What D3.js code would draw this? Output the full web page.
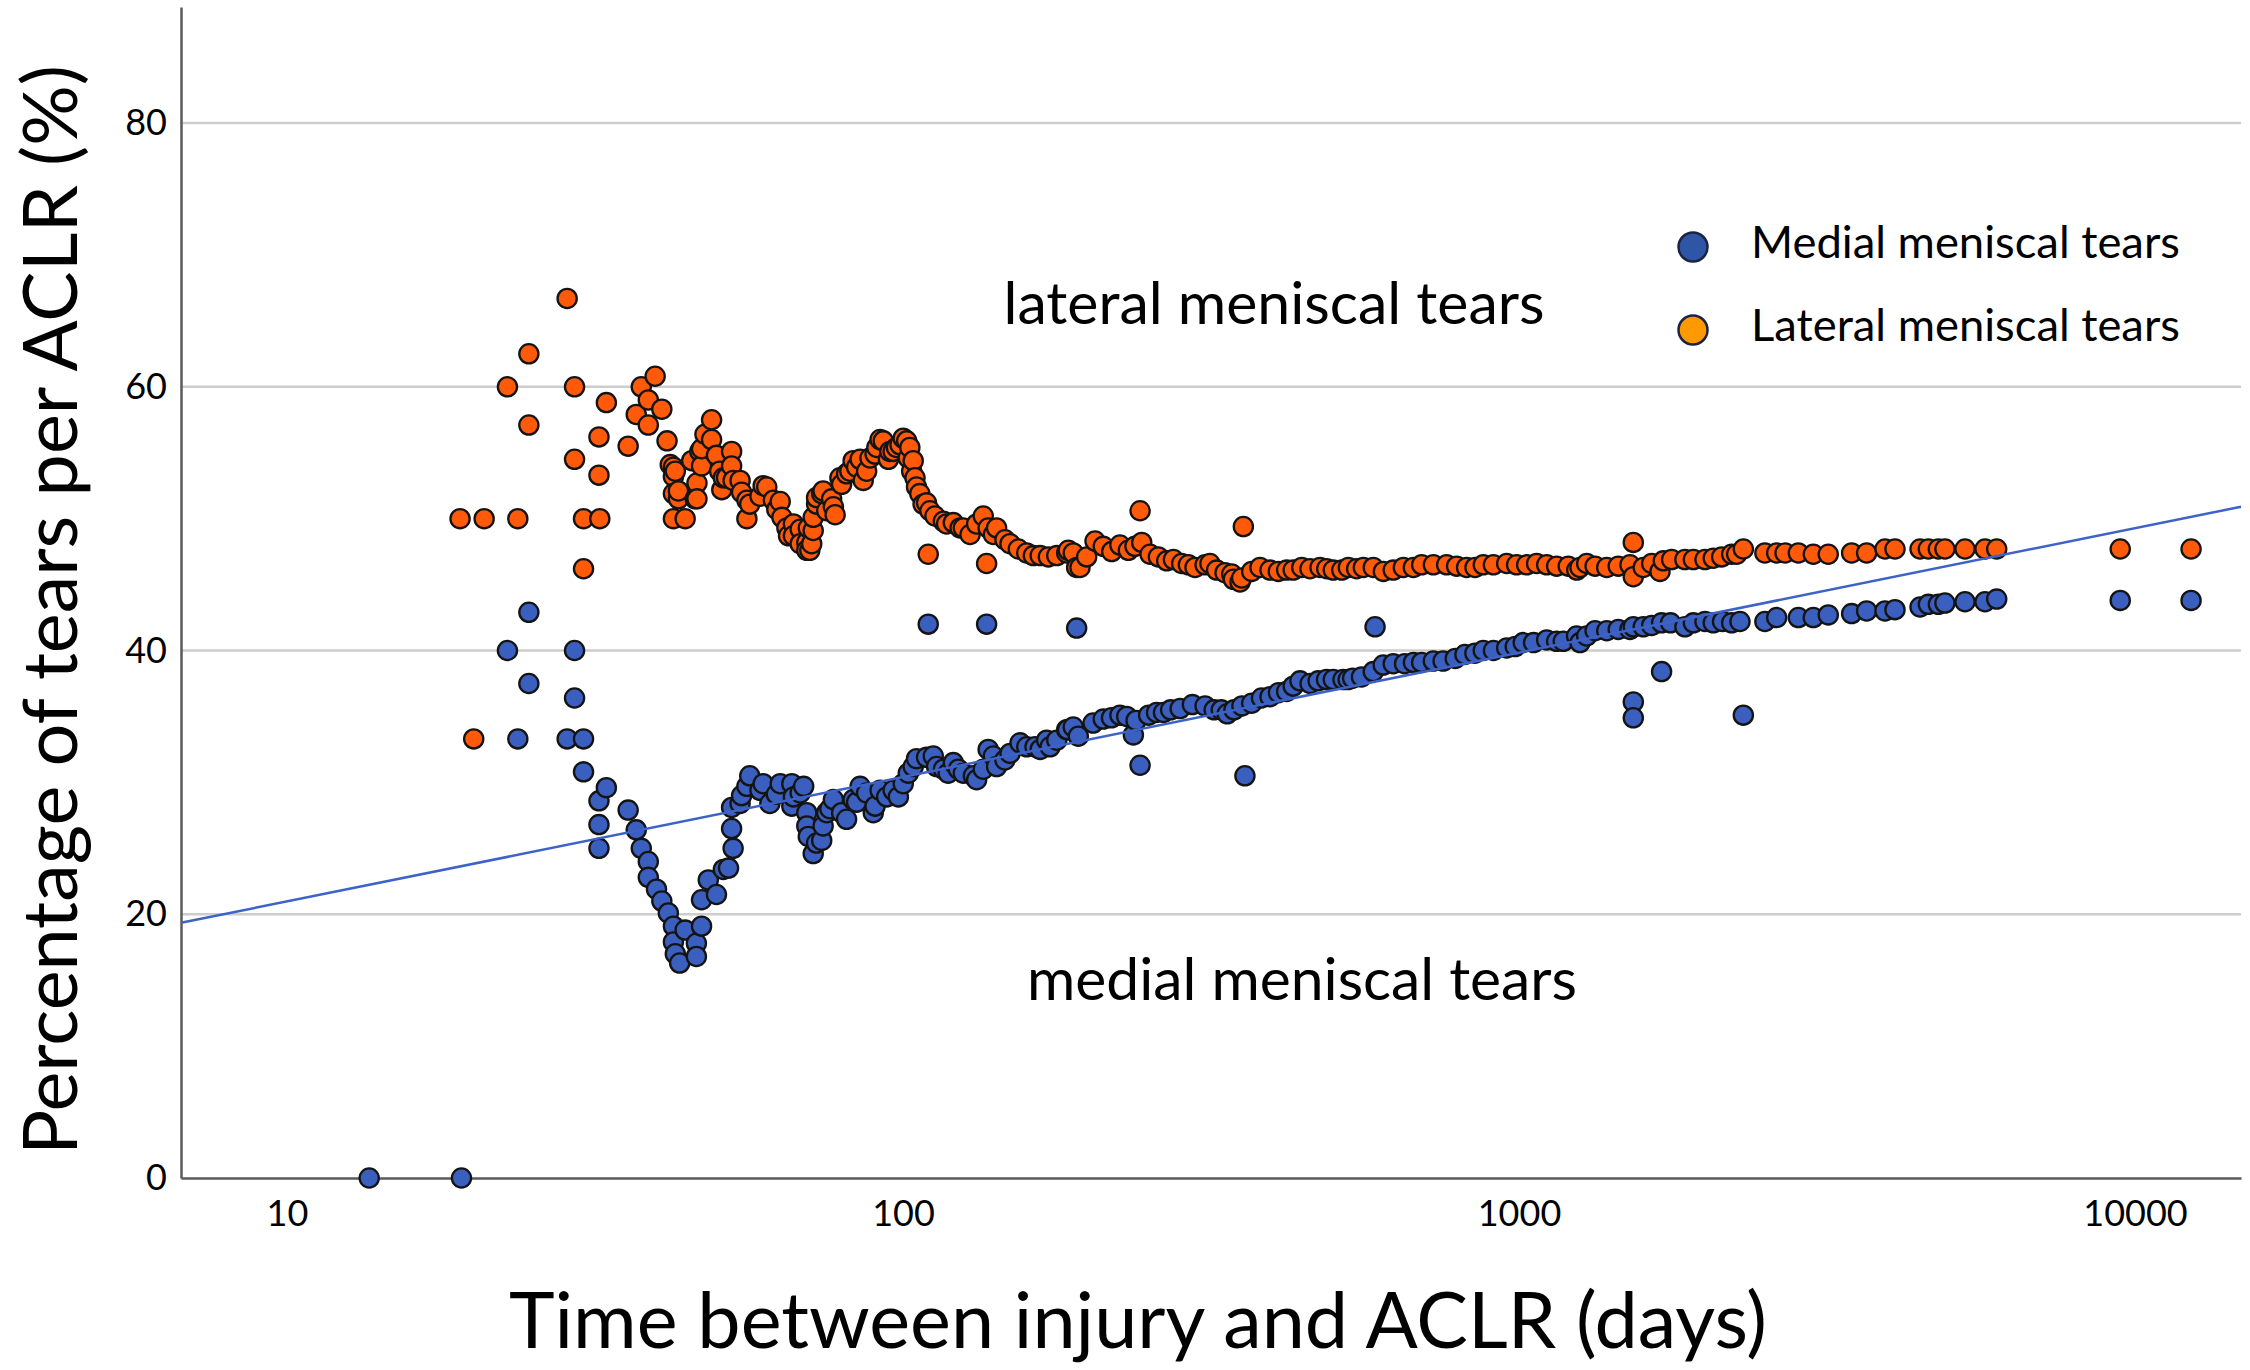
<!DOCTYPE html>
<html>
<head>
<meta charset="utf-8">
<script src="https://cdn.jsdelivr.net/npm/d3@7/dist/d3.min.js"></script>
<style>
  body { margin: 0; background: #fff; }
  svg { display: block; font-family: Lato, "Open Sans", sans-serif; }
</style>
</head>
<body>
<div id="chart"></div>
<script>
// values: [days, percent]
var lateralPoints = [
  [19.1,50],[20.1,33.3],[20.9,50],[22.8,60],[23.7,50],[24.7,62.5],[24.7,57.1],[28.5,66.7],[29.3,60],[29.3,54.5],
  [30.3,50],[30.3,46.2],[32.1,53.3],[32.1,56.2],[32.2,50],[33.0,58.8],[35.8,55.5],[36.9,57.9],[37.6,60.0],[38.6,59.0],
  [38.6,57.1],[39.6,60.8],[40.6,58.3],[41.4,55.9],[41.9,54.1],[42.4,53.9],[42.4,53.2],[42.4,51.9],[42.4,50],[42.7,53.6],
  [43.2,51.5],[43.2,52.1],[44.3,50],[45.4,54.4],[46.0,51.5],[46.3,52.7],[46.3,51.5],[46.8,55.1],[47.1,54.0],[47.1,55.3],
  [47.7,56.4],[48.9,56.0],[48.9,57.5],[49.8,54.8],[50.4,53.6],[50.8,52.2],[51.1,53.1],[51.7,53.1],[52.7,55.1],[52.7,54.0],
  [53.0,52.9],[54.4,52.9],[54.7,52.0],[55.8,50.0],[55.8,51.4],[56.4,51.1],[58.6,51.7],[59.3,52.5],[60.1,52.4],[61.6,51.4],
  [62.4,50.7],[63.2,51.3],[63.6,50.1],[64.8,49.3],[65.2,48.7],[66.4,49.6],[66.4,48.7],[68.1,49.2],[68.1,48.1],[69.8,48.2],
  [69.8,47.6],[70.2,49.3],[70.6,47.6],[71.1,48.1],[71.5,49.1],[71.5,50.1],[72.4,51.1],[72.4,51.6],[73.8,51.9],[74.2,52.1],
  [75.2,50.6],[76.6,51.5],[77.1,50.9],[77.6,50.3],[79.0,53.1],[79.5,52.6],[81.0,53.4],[82.0,53.6],[83.0,54.4],[84.1,53.9],
  [85.2,54.5],[86.2,52.9],[87.3,53.6],[88.4,54.6],[90.1,54.9],[90.7,55.4],[91.8,56.0],[92.9,55.9],[94.7,54.5],[95.2,55.1],
  [96.4,55.1],[97.6,55.4],[98.9,55.6],[100.1,56.1],[101.4,55.9],[102.0,54.6],[102.6,55.4],[103.3,53.6],[103.9,54.4],[104.6,53.1],
  [105.2,52.4],[106.5,51.9],[107.8,51.1],[109.2,51.2],[109.9,47.3],[110.6,50.6],[112.7,50.2],[116.3,49.8],[117.7,49.6],[120.7,49.7],
  [123.8,49.3],[125.3,49.3],[128.5,48.8],[131.7,49.6],[135.0,50.2],[136.7,46.6],[137.5,49.3],[140.2,48.8],[141.9,49.3],[146.4,48.4],
  [149.2,48.1],[153.9,47.7],[158.8,47.4],[162.8,47.2],[167.0,47.2],[172.2,47.1],[177.7,47.2],[184.4,47.4],[185.5,47.6],[189,47.4],
  [191.4,46.3],[193.8,46.3],[198.7,47.1],[205,48.3],[211.4,47.9],[218.2,47.5],[225,48.0],[232.2,47.6],[238,47.9],[242.6,50.6],
  [244.1,48.2],[251.8,47.3],[259.8,47.1],[268,46.8],[274.8,46.9],[283.4,46.6],[290.6,46.5],[297.9,46.3],[309.3,46.5],[315,46.6],
  [323,46.1],[333.3,45.9],[341.7,45.8],[343.8,45.4],[352.5,45.2],[354.7,45.5],[356.9,49.4],[368.2,46.0],[379.8,46.3],[394.3,46.1],
  [406.7,46.0],[419.6,46.1],[430,46.1],[444,46.3],[457.8,46.2],[475.3,46.3],[487.4,46.2],[499.5,46.1],[515.6,46.1],[528.4,46.3],
  [545,46.2],[558.9,46.3],[580,46.3],[602.4,46.0],[625,46.1],[649,46.3],[673.7,46.3],[695,46.5],[726.1,46.5],[763,46.5],
  [792,46.4],[822,46.3],[848.4,46.3],[875,46.5],[908.7,46.5],[955,46.6],[991,46.5],[1029,46.5],[1068,46.6],[1109,46.5],
  [1151,46.4],[1202,46.4],[1241,46.1],[1256,46.3],[1288,46.6],[1329,46.4],[1388,46.3],[1449,46.4],[1514,46.5],[1533,48.2],
  [1533,45.6],[1591,46.3],[1642,46.6],[1694,46.0],[1715,46.8],[1769,46.9],[1859,46.9],[1919,46.9],[2004,46.9],[2067,47.0],
  [2133,47.1],[2214,47.3],[2256,47.3],[2313,47.7],[2507,47.4],[2620,47.4],[2703,47.4],[2841,47.4],[3004,47.3],[3177,47.3],
  [3467,47.4],[3667,47.4],[3928,47.7],[4077,47.7],[4477,47.7],[4618,47.7],[4794,47.7],[4914,47.7],[5297,47.7],[5708,47.7],
  [5963,47.7],[9462,47.7],[12330,47.7]
];

var medialPoints = [
  [13.6,0],[19.2,0],[22.8,40],[23.7,33.3],[24.7,42.9],[24.7,37.5],[28.5,33.3],[29.3,40],[29.3,36.4],[30.3,33.3],
  [30.3,30.8],[32.1,28.6],[32.1,26.8],[32.1,25.0],[33.0,29.6],[35.8,27.9],[36.9,26.4],[37.6,25.0],[38.6,24.0],[38.6,22.8],
  [39.8,21.9],[40.6,21.0],[41.6,20.1],[42.4,19.1],[42.4,17.9],[42.7,17.0],[43.4,16.3],[44.3,18.8],[46.2,17.8],[46.2,16.8],
  [47.1,19.1],[47.1,21.1],[48.3,22.6],[49.8,21.5],[51.1,23.4],[52.1,23.5],[52.7,26.5],[52.7,28.1],[53.0,25.0],[54.4,28.4],
  [54.7,29.0],[55.8,29.7],[56.4,30.5],[58.6,29.4],[59.3,29.9],[60.8,28.4],[62.3,29.1],[63.2,29.9],[66.0,29.9],[66.0,28.2],
  [66.4,28.9],[68.1,29.2],[69.0,29.7],[69.8,27.7],[69.8,26.7],[70.2,25.9],[71.5,24.6],[72.4,25.4],[73.8,25.6],[74.2,26.7],
  [75.2,27.7],[76.1,28.0],[77.1,28.7],[79.5,27.7],[81.0,27.2],[83.0,28.7],[84.1,28.5],[85.2,29.7],[87.3,29.2],[89.5,27.7],
  [90.1,28.2],[91.8,29.4],[94.1,28.9],[96.4,29.4],[98.3,28.9],[100.1,29.9],[102.0,30.7],[103.9,31.2],[105.2,31.8],[109.2,31.9],
  [109.9,42.0],[112.0,32.0],[113.4,31.2],[116.3,31.0],[118.4,30.7],[120.7,31.5],[123.0,31.0],[125.3,30.7],[130.1,30.5],[131.7,30.2],
  [135.0,31.0],[136.7,42.0],[137.5,32.5],[140.2,32.0],[141.9,31.2],[146.4,31.7],[149.2,32.2],[154.9,33.0],[158.8,32.7],[163.8,32.7],
  [167.0,32.5],[171.1,33.2],[173.3,32.7],[177.7,33.2],[184.4,34.0],[185,34.0],[189.0,34.2],[191.4,41.7],[192.6,33.5],[203.5,34.5],
  [211.4,34.8],[218,34.9],[225,35.1],[230.8,35.0],[236.6,33.6],[239,34.7],[242.6,31.3],[250.5,35.1],[258,35.3],[264.8,35.3],
  [272,35.5],[281.8,35.6],[295,35.9],[309.3,35.8],[320,35.5],[328.6,35.5],[336,35.2],[344.6,35.5],[355,35.8],[359,30.5],
  [368.2,36.0],[382,36.4],[394.3,36.5],[407,36.8],[419.6,36.9],[430,37.3],[441,37.7],[458,37.5],[472,37.7],[487,37.8],
  [499.5,37.8],[518,37.8],[528,37.8],[537,37.9],[555,38.0],[580,38.4],[583.9,41.8],[602,38.9],[625,39.0],[652,39.0],
  [674,39.1],[695,39.1],[726,39.2],[753,39.2],[788,39.4],[817,39.7],[848,39.8],[875,40.0],[909,40.0],[955,40.2],
  [986,40.3],[1016,40.6],[1056,40.6],[1109,40.8],[1151,40.7],[1180,40.7],[1240,41.1],[1256,40.6],[1288,41.1],[1329,41.5],
  [1388,41.5],[1449,41.6],[1514,41.6],[1533,41.8],[1533,36.1],[1533,34.9],[1591,41.8],[1642,41.9],[1704,42.1],[1704,38.4],
  [1762,42.1],[1859,41.8],[1919,42.1],[2004,42.2],[2067,42.1],[2140,42.2],[2214,42.1],[2284,42.2],[2313,35.1],[2507,42.2],
  [2620,42.5],[2841,42.5],[3004,42.5],[3177,42.7],[3467,42.8],[3667,43.0],[3928,43.0],[4077,43.1],[4477,43.3],[4618,43.5],
  [4794,43.5],[4914,43.6],[5297,43.7],[5708,43.7],[5963,43.9],[9462,43.8],[12330,43.8]
];

// fit line for medial tears, its two ends at the plot edges
var medialFit = [[6.73,19.35],[14860,50.9]];

var xTicks = [10, 100, 1000, 10000];
var yTicks = [0, 20, 40, 60, 80];
var legendNames = ["Medial meniscal tears", "Lateral meniscal tears"];
var areaNames = ["lateral meniscal tears", "medial meniscal tears"];

var width = 2250, height = 1370;
var plotLeft = 181, plotRight = 2241, plotTop = 7, plotBottom = 1178;

var svg = d3.select("#chart").append("svg")
    .attr("width", width)
    .attr("height", height);

var xScale = d3.scaleLog().domain([6.73, 14860]).range([plotLeft, plotRight]);
var yScale = d3.scaleLinear().domain([0, 88.8]).range([plotBottom, plotTop]);

// grid lines
svg.append("g")
    .selectAll("line")
    .data(yTicks.filter(function (d) { return d > 0; }))
    .join("line")
    .attr("x1", plotLeft).attr("x2", plotRight)
    .attr("y1", function (d) { return yScale(d); })
    .attr("y2", function (d) { return yScale(d); })
    .style("stroke", "#cdcdcd")
    .style("stroke-width", 2.5);

var yAxis = d3.axisLeft(yScale).tickValues(yTicks).tickSize(0).tickPadding(14);
var xAxis = d3.axisBottom(xScale).tickValues(xTicks).tickFormat(d3.format("d")).tickSize(0).tickPadding(22);

function draw(axis, translate) {
    var g = svg.append("g").attr("transform", translate).call(axis);
    g.select(".domain").style("stroke", "#5a5a5a").style("stroke-width", 2.5);
    g.selectAll("text").style("font-family", "Lato, sans-serif").style("font-size", "36px").style("fill", "#000");
    return g;
}

draw(xAxis, "translate(0," + plotBottom + ")");
draw(yAxis, "translate(" + plotLeft + ",0)");

function plotPoints(points, fill) {
    svg.append("g")
        .selectAll("circle")
        .data(points)
        .join("circle")
        .attr("cx", function (d) { return xScale(d[0]); })
        .attr("cy", function (d) { return yScale(d[1]); })
        .attr("r", 9.6)
        .style("fill", fill)
        .style("stroke", "#141414")
        .style("stroke-width", 2.3);
}

plotPoints(medialPoints, "#3a5fbf");
plotPoints(lateralPoints, "#ff5a0a");

var line = d3.line()
    .x(function (d) { return xScale(d[0]); })
    .y(function (d) { return yScale(d[1]); });

svg.append("path")
    .datum(medialFit)
    .attr("d", line)
    .style("fill", "none")
    .style("stroke", "#3d62c8")
    .style("stroke-width", 2.5);

// stretch a text to the width it has in the picture
function fitWidth(sel, target) {
    var size = parseFloat(sel.style("font-size"));
    var w = sel.node().getComputedTextLength();
    sel.style("font-size", (size * target / w) + "px");
}

var xTitle = svg.append("text")
    .attr("x", 1138).attr("y", 1348)
    .attr("text-anchor", "middle")
    .style("font-size", "74px")
    .text("Time between injury and ACLR (days)");
fitWidth(xTitle, 1258);

var yTitle = svg.append("text")
    .attr("transform", "translate(77,610) rotate(-90)")
    .attr("text-anchor", "middle")
    .style("font-size", "74px")
    .text("Percentage of tears per ACLR (%)");
fitWidth(yTitle, 1090);

var lat = svg.append("text")
    .attr("x", 1274).attr("y", 324)
    .attr("text-anchor", "middle")
    .style("font-size", "56px")
    .text(areaNames[0]);
fitWidth(lat, 541);

var med = svg.append("text")
    .attr("x", 1302).attr("y", 1000)
    .attr("text-anchor", "middle")
    .style("font-size", "56px")
    .text(areaNames[1]);
fitWidth(med, 550);

// legend
var legendFill = ["#2f56a6", "#ff9900"];
var legendG = svg.append("g");
legendNames.forEach(function (name, i) {
    var cy = 247 + i * 83;
    legendG.append("circle")
        .attr("cx", 1693).attr("cy", cy).attr("r", 14.5)
        .style("fill", legendFill[i])
        .style("stroke", "#1b2442")
        .style("stroke-width", 2.5);
    var t = legendG.append("text")
        .attr("x", 1751).attr("y", cy + 11)
        .style("font-size", "44px")
        .text(name);
    fitWidth(t, 429);
});
</script>
</body>
</html>
